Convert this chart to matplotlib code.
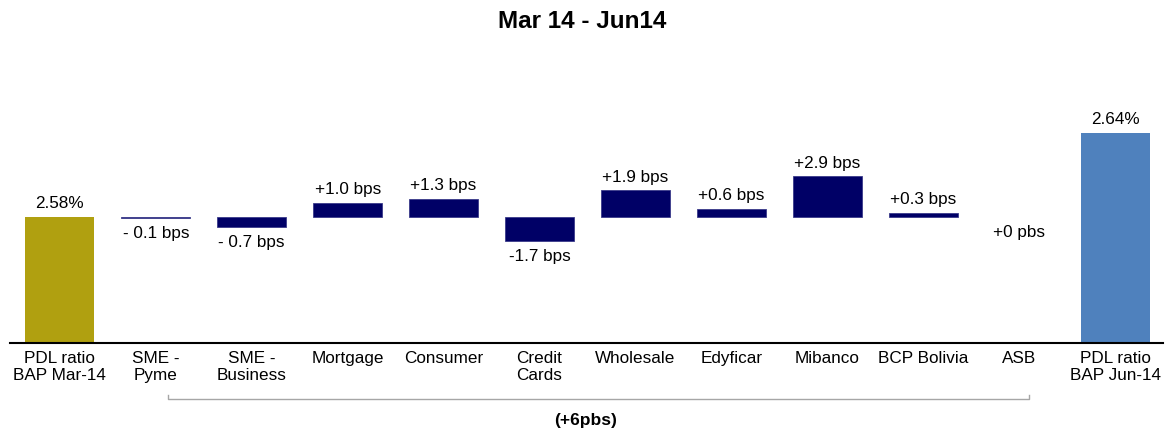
import matplotlib
matplotlib.use("Agg")
import matplotlib.pyplot as plt
import matplotlib.transforms as mtransforms

plt.rcParams['font.family'] = ['Liberation Sans', 'DejaVu Sans']

# Data
categories = ["PDL ratio\nBAP Mar-14", "SME -\nPyme", "SME -\nBusiness", "Mortgage",
              "Consumer", "Credit\nCards", "Wholesale", "Edyficar", "Mibanco",
              "BCP Bolivia", "ASB", "PDL ratio\nBAP Jun-14"]
start_ratio = 2.58   # %
end_ratio = 2.64     # %
deltas_bps = [-0.1, -0.7, 1.0, 1.3, -1.7, 1.9, 0.6, 2.9, 0.3, 0.0]
delta_labels = ["- 0.1 bps", "- 0.7 bps", "+1.0 bps", "+1.3 bps", "-1.7 bps",
                "+1.9 bps", "+0.6 bps", "+2.9 bps", "+0.3 bps", "+0 pbs"]

GOLD = "#B0A010"
BLUE = "#4F81BD"
NAVY = "#000066"
FS = 12.3

fig = plt.figure(figsize=(11.65, 4.3), dpi=100)
ax = fig.add_axes([10 / 1165, 87 / 430, 1153 / 1165, 243 / 430])

x = list(range(len(categories)))
w = 0.72

# totals
ax.bar(x[0], start_ratio, width=w, color=GOLD, bottom=0)
ax.bar(x[-1], end_ratio, width=w, color=BLUE, bottom=0)
ax.annotate(f"{start_ratio:.2f}%", (x[0], start_ratio), xytext=(0, 9.5),
            textcoords="offset points", ha="center", va="center", fontsize=FS)
ax.annotate(f"{end_ratio:.2f}%", (x[-1], end_ratio), xytext=(0, 9.5),
            textcoords="offset points", ha="center", va="center", fontsize=FS)

# deltas, all hanging from the starting ratio
for i, (d, lab) in enumerate(zip(deltas_bps, delta_labels), start=1):
    h = d / 100.0
    if d != 0:
        ax.bar(i, h, width=w, bottom=start_ratio, color=NAVY,
               edgecolor="#3a3a8a", linewidth=0.6)
    if d > 0:
        ax.annotate(lab, (i, start_ratio + h), xytext=(0, 9.5),
                    textcoords="offset points", ha="center", va="center", fontsize=FS)
    else:
        ax.annotate(lab, (i, start_ratio + h), xytext=(0, -11),
                    textcoords="offset points", ha="center", va="center", fontsize=FS)

ax.set_xlim(-0.52, 11.5)
ax.set_ylim(2.49, 2.49 + 243 / 1400)
ax.set_xticks(x)
ax.set_xticklabels(categories, fontsize=FS, linespacing=1.1)
ax.tick_params(axis="x", length=0, pad=6)
ax.set_yticks([])
for s in ["top", "right", "left"]:
    ax.spines[s].set_visible(False)
ax.spines["bottom"].set_linewidth(1.5)

# bracket below the delta categories
trans = mtransforms.blended_transform_factory(ax.transData, ax.transAxes)
bx0, bx1 = 1.13, 10.1
y0, y1 = -0.231, -0.214
ax.plot([bx0, bx0, bx1, bx1], [y1, y0, y0, y1], transform=trans,
        color="#a6a6a6", linewidth=1, clip_on=False)

fig.text(0.503, 1 - 421 / 430, "(+6pbs)", ha="center", va="center",
         fontsize=12.5, fontweight="bold")
fig.text(0.5, 1 - 22 / 430, "Mar 14 - Jun14", ha="center", va="center",
         fontsize=17.5, fontweight="bold")

fig.savefig("out.png", dpi=100)
